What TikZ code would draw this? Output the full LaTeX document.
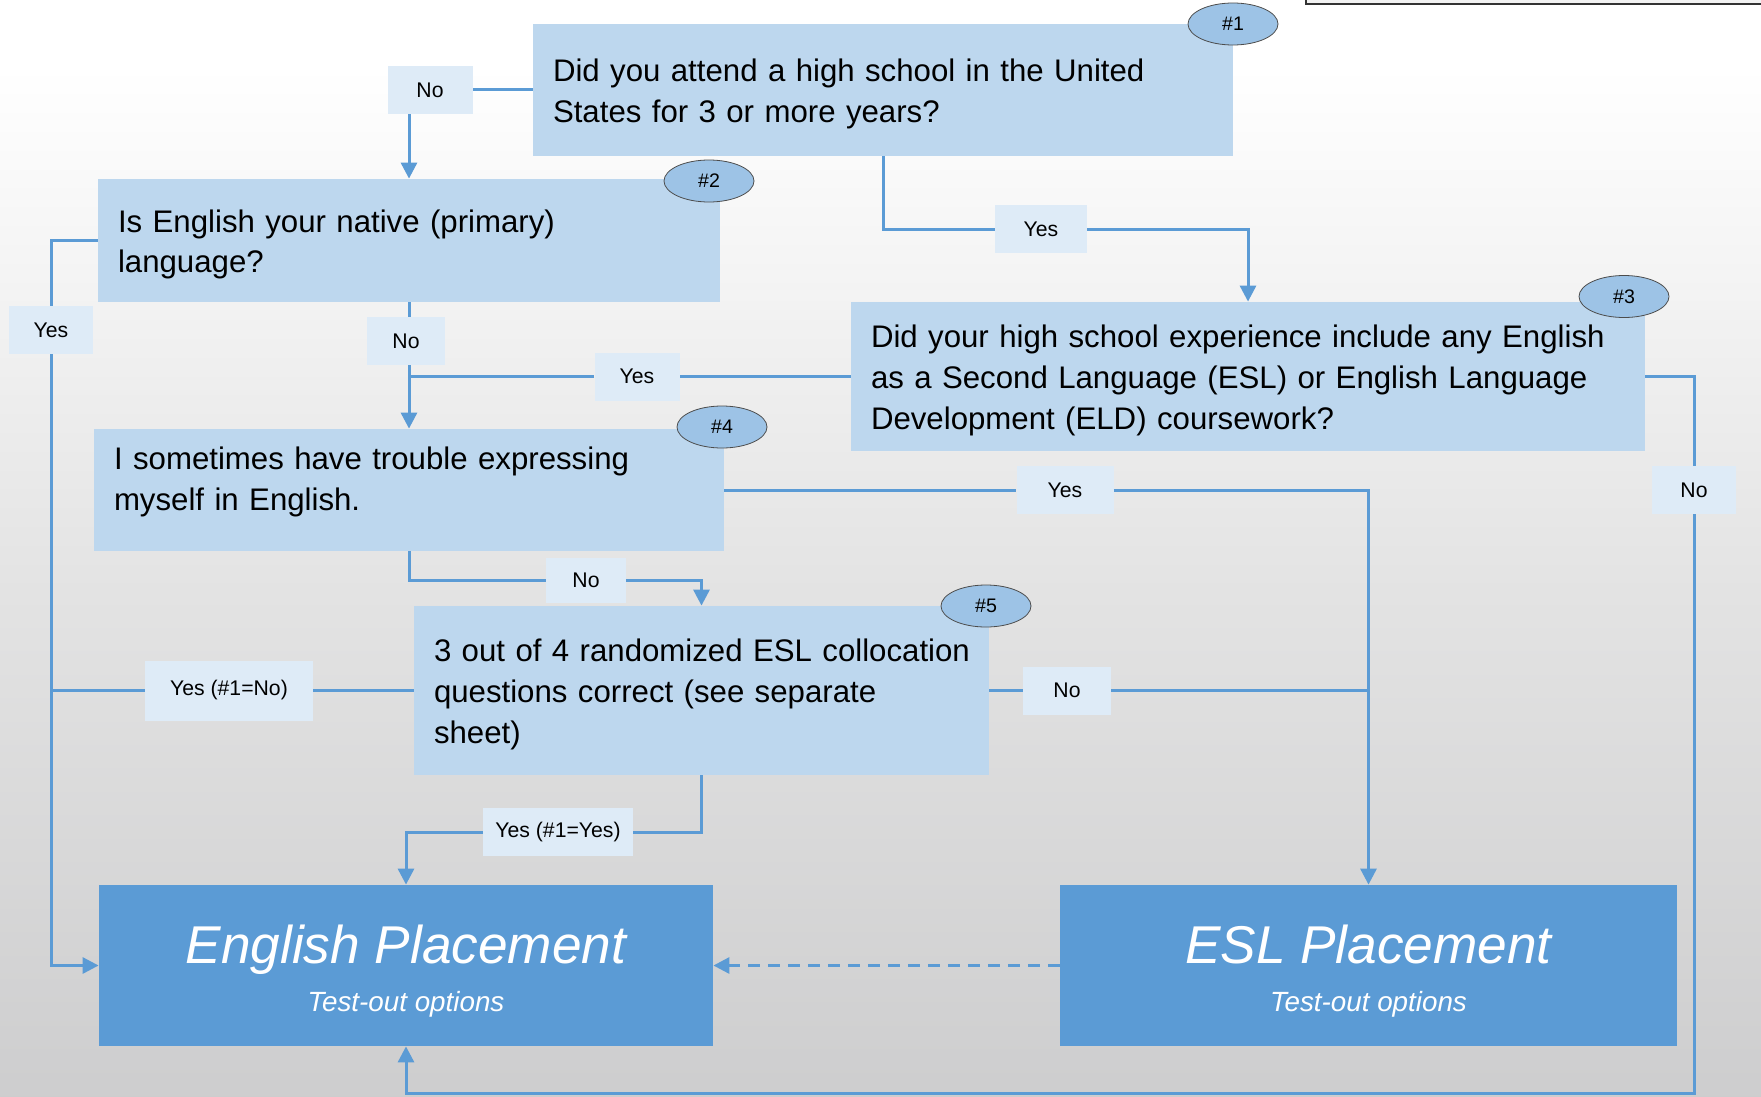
\documentclass[tikz,border=0pt]{standalone}
\usepackage{fontspec}
\setmainfont{Liberation Sans}
\usetikzlibrary{shapes.geometric, arrows.meta}
\definecolor{boxblue}{HTML}{BDD7EE}
\definecolor{lineblue}{HTML}{5B9BD5}
\definecolor{tagblue}{HTML}{DEEBF7}
\definecolor{badgeblue}{HTML}{9DC3E6}
\definecolor{bgmid}{HTML}{E3E3E3}
\definecolor{bgbot}{HTML}{B6B6B8}
\pgfdeclareverticalshading{bgshade}{100bp}{color(0bp)=(bgbot); color(48bp)=(bgmid); color(72bp)=(white); color(100bp)=(white)}
\tikzstyle{qbox} = [rectangle, fill=boxblue, inner xsep=10pt, inner ysep=0pt, align=left, font=\fontsize{15.6}{20.4}\selectfont]
\tikzset{lift/.style={execute at end node={\endgraf\vspace{#1}}}}
\tikzstyle{place} = [rectangle, fill=lineblue, text=white, align=center, minimum height=80.5pt, inner sep=0pt]
\tikzstyle{tag} = [rectangle, fill=tagblue, inner sep=0pt, minimum height=24pt, font=\fontsize{10.6}{12}\selectfont]
\tikzstyle{badge} = [ellipse, fill=badgeblue, draw=gray!60!black, line width=0.4pt, minimum width=45pt, minimum height=21pt, inner sep=0pt, font=\fontsize{9.8}{11}\selectfont]
\tikzstyle{link} = [draw=lineblue, line width=1.5pt]
\tikzstyle{arrow} = [link, -{Triangle[width=8pt,length=8pt]}]
\newcommand{\placetitle}[1]{{\fontsize{26.6}{30}\selectfont\itshape\rule[-7pt]{0pt}{38pt}#1}\\[5.5pt]{\fontsize{13.9}{16}\selectfont\itshape\rule[-9pt]{0pt}{19pt}Test-out options}}

\begin{document}
\begin{tikzpicture}[x=0.5pt, y=-0.5pt]
        \useasboundingbox (0,0) rectangle (1761,1097);
        \shade[shading=bgshade] (0,0) rectangle (1761,1097);
        \draw[draw=gray!40!black, fill=gray!10, line width=0.8pt] (1306,-10) rectangle (1775,4);

        % question boxes
        \node[qbox, lift=-4pt, text width=330pt, minimum height=66pt] (q1) at (883,90) {Did you attend a high school in the United\\States for 3 or more years?};
        \node[qbox, lift=-4pt, text width=291pt, minimum height=61.5pt] (q2) at (409,240.5) {Is English your native (primary)\\language?};
        \node[qbox, lift=-4pt, text width=377pt, minimum height=74.5pt] (q3) at (1248,376.5) {Did your high school experience include any English\\as a Second Language (ESL) or English Language\\Development (ELD) coursework?};
        \node[qbox, lift=8pt, text width=295pt, minimum height=61pt] (q4) at (409,490) {I sometimes have trouble expressing\\myself in English.};
        \node[qbox, lift=-4pt, text width=267.5pt, minimum height=84.5pt] (q5) at (701.5,690.5) {\mbox{3 out of 4 randomized ESL collocation}\\questions correct (see separate\\sheet)};

        \node[place, minimum width=307pt] (pEng) at (406,965.5) {\placetitle{English Placement}};
        \node[place, minimum width=308.5pt] (pEsl) at (1368.5,965.5) {\placetitle{ESL Placement}};

        \node[badge] (b1) at (1233,24) {\#1};
        \node[badge] (b2) at (709,181) {\#2};
        \node[badge] (b3) at (1624,296.5) {\#3};
        \node[badge] (b4) at (722,427) {\#4};
        \node[badge] (b5) at (986,606) {\#5};

        % answer tags
        \node[tag, minimum width=42.5pt] (lNo1) at (430,90) {No};
        \node[tag, minimum width=46pt] (lYes1) at (1041,229) {Yes};
        \node[tag, minimum width=42pt] (lYes2) at (51,330) {Yes};
        \node[tag, minimum width=39pt] (lNo2) at (406,341) {No};
        \node[tag, minimum width=42.5pt] (lYes3) at (637,376.5) {Yes};
        \node[tag, minimum width=42pt] (lNo3) at (1694,490) {No};
        \node[tag, minimum width=48.5pt] (lYes4) at (1065,490) {Yes};
        \node[tag, minimum width=40pt, minimum height=22.5pt] (lNo4) at (586,580) {No};
        \node[tag, minimum width=84pt, minimum height=30pt] (lYes5a) at (229,690.5) {Yes (\#1=No)};
        \node[tag, minimum width=44pt] (lNo5) at (1067,690.5) {No};
        \node[tag, minimum width=75pt] (lYes5b) at (558,832) {Yes (\#1=Yes)};

        \coordinate (cBot) at ([yshift=-23.5pt]pEng.south);

        \draw[link] (q1.west) -- (lNo1.east);
        \draw[arrow] (lNo1.south -| q2.north) -- (q2.north);
        \draw[link] (q1.south) |- (lYes1.west);
        \draw[arrow] (lYes1.east) -| (q3.north);

        \draw[link] (q2.west) -| (lYes2.north);
        \draw[arrow] (lYes2.south) |- (pEng.west);
        \draw[link] (q2.south) -- (q2.south |- lNo2.north);
        \draw[arrow] (q4.north |- lNo2.south) -- (q4.north);

        \draw[link] (q3.west) -- (lYes3.east);
        \draw[link] (lYes3.west) -- (lYes3.west -| q4.north);
        \draw[link] (q3.east) -| (lNo3.north);
        \draw[arrow] (lNo3.south) |- (cBot) -- (pEng.south);

        \draw[link] (q4.east) -- (lYes4.west);
        \draw[arrow] (lYes4.east) -| (pEsl.north);
        \draw[link] (q4.south) |- (lNo4.west);
        \draw[arrow] (lNo4.east) -| (q5.north);

        \draw[link] (q5.west) -- (lYes5a.east);
        \draw[link] (lYes5a.west) -- (lYes5a.west -| lYes2.south);
        \draw[link] (q5.east) -- (lNo5.west);
        \draw[link] (lNo5.east) -- (lNo5.east -| pEsl.north);
        \draw[link] (q5.south) |- (lYes5b.east);
        \draw[arrow] (lYes5b.west) -| (pEng.north);

        \draw[arrow, dash pattern=on 6pt off 4pt] (pEsl.west) -- (pEng.east);
\end{tikzpicture}
\end{document}
